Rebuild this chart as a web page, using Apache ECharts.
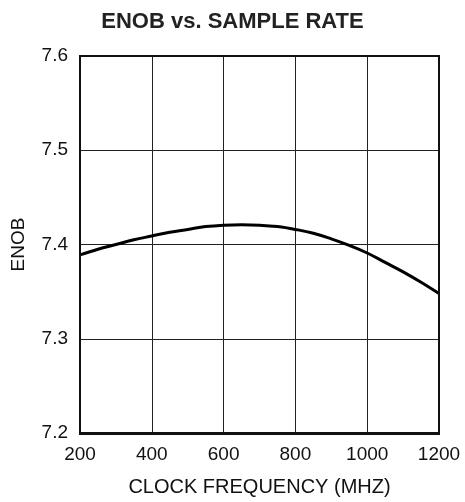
<!DOCTYPE html>
<html><head><meta charset="utf-8">
<script src="https://cdn.jsdelivr.net/npm/echarts@6/dist/echarts.min.js"></script>
<style>html,body{margin:0;padding:0;background:#fff}#c{width:465px;height:502px}</style>
</head><body><div id="c"></div>
<script>
const freq = [200, 250, 300, 350, 400, 450, 500, 550, 600, 650, 700, 750, 800, 850, 900, 950, 1000, 1050, 1100, 1150, 1200];
const enob = [7.389, 7.395, 7.400, 7.405, 7.409, 7.413, 7.416, 7.419, 7.4205, 7.421, 7.4205, 7.419, 7.416, 7.412, 7.406, 7.399, 7.391, 7.381, 7.371, 7.360, 7.348];
const xTicks = [200, 400, 600, 800, 1000, 1200];
const yTicks = [7.2, 7.3, 7.4, 7.5, 7.6];

const chart = echarts.init(document.getElementById('c'));
const font = 'Liberation Sans, Arial, sans-serif';
chart.setOption({
  animation: false,
  title: {text: 'ENOB vs. SAMPLE RATE', left: 'center', top: 6,
    textStyle: {fontFamily: font, fontWeight: 'bold', fontSize: 22, color: '#222'}},
  grid: {left: 80, right: 26, top: 56, bottom: 68},
  xAxis: {type: 'value', min: 200, max: 1200, interval: 200,
    name: 'CLOCK FREQUENCY (MHZ)', nameLocation: 'middle', nameGap: 44,
    nameTextStyle: {fontFamily: font, fontSize: 20, color: '#111'},
    axisLine: {show: true, lineStyle: {color: '#111', width: 2}},
    axisTick: {show: false},
    axisLabel: {fontFamily: font, fontSize: 19, color: '#111', margin: 12,
      formatter: v => String(v)},
    splitLine: {show: true, lineStyle: {color: '#222', width: 1}}},
  yAxis: {type: 'value', min: 7.2, max: 7.6, interval: 0.1,
    name: 'ENOB', nameLocation: 'middle', nameGap: 52, nameRotate: 90,
    nameTextStyle: {fontFamily: font, fontSize: 19, color: '#111'},
    axisLine: {show: true, lineStyle: {color: '#111', width: 2}},
    axisTick: {show: false},
    axisLabel: {fontFamily: font, fontSize: 19, color: '#111', margin: 12,
      formatter: v => v.toFixed(1)},
    splitLine: {show: true, lineStyle: {color: '#222', width: 1}}},
  series: [{type: 'line', data: freq.map((f, i) => [f, enob[i]]), smooth: 0.4,
    showSymbol: false, lineStyle: {color: '#000', width: 3}}]
});
chart.setOption({graphic: [{type: 'rect', shape: {x: 80, y: 56, width: 359, height: 378},
  style: {fill: 'none', stroke: '#111', lineWidth: 2}, silent: true, z: 10}]});
</script></body></html>
